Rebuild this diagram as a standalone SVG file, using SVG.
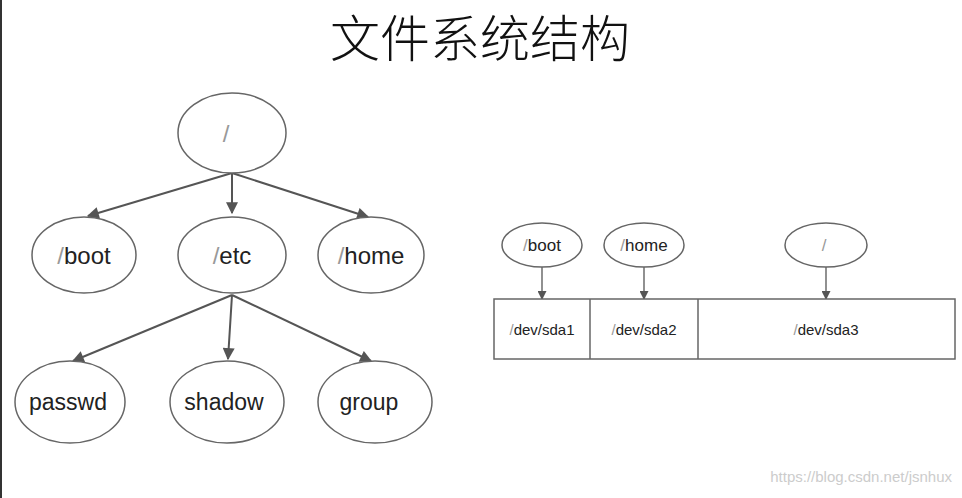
<svg xmlns="http://www.w3.org/2000/svg" width="962" height="498" viewBox="0 0 962 498">
<style>
.n{fill:#fff;stroke:#666;stroke-width:1.5}
.t{font-family:"Liberation Sans",Arial,sans-serif;fill:#222;text-anchor:middle}
.s{fill:#999}
.c{stroke:#555;stroke-width:2;fill:none;marker-end:url(#a)}
.c2{stroke:#555;stroke-width:1.3;fill:none;marker-end:url(#b)}
</style>
<defs>
<marker id="a" viewBox="0 0 10 10" refX="9" refY="5" markerWidth="13" markerHeight="12" markerUnits="userSpaceOnUse" orient="auto"><path d="M0,0L10,5L0,10z" fill="#555"/></marker>
<marker id="b" viewBox="0 0 10 10" refX="9" refY="5" markerWidth="10" markerHeight="9" markerUnits="userSpaceOnUse" orient="auto"><path d="M0,0L10,5L0,10z" fill="#555"/></marker>
</defs>
<rect width="962" height="498" fill="#fff"/>
<rect x="0" y="0" width="2" height="498" fill="#333"/>
<text x="480" y="57" font-family="'Noto Sans CJK SC',sans-serif" font-weight="300" font-size="50" text-anchor="middle" fill="#111">文件系统结构</text>
<g id="connectors">
<path class="c" d="M232,173L88,216"/>
<path class="c" d="M232,173L232,213"/>
<path class="c" d="M232,173L368,217"/>
<path class="c" d="M232,295L73,361"/>
<path class="c" d="M232,295L228,359"/>
<path class="c" d="M232,295L371,361"/>
<path class="c2" d="M542,267L542,299"/>
<path class="c2" d="M644,267L644,299"/>
<path class="c2" d="M826,267L826,299"/>
</g>
<g id="root"><ellipse class="n" cx="232" cy="133" rx="54" ry="40"/><text class="t s" x="226" y="142" font-size="24">/</text></g>
<g id="boot"><ellipse class="n" cx="84" cy="255" rx="52" ry="38"/><text class="t" x="84" y="264" font-size="24"><tspan class="s">/</tspan>boot</text></g>
<g id="etc"><ellipse class="n" cx="232" cy="255" rx="54" ry="38"/><text class="t" x="232" y="264" font-size="24"><tspan class="s">/</tspan>etc</text></g>
<g id="home"><ellipse class="n" cx="371" cy="255" rx="53" ry="38"/><text class="t" x="371" y="264" font-size="24"><tspan class="s">/</tspan>home</text></g>
<g id="passwd"><ellipse class="n" cx="70" cy="402" rx="55" ry="41"/><text class="t" x="68" y="410" font-size="23">passwd</text></g>
<g id="shadow"><ellipse class="n" cx="227" cy="402" rx="57" ry="41"/><text class="t" x="224" y="410" font-size="23">shadow</text></g>
<g id="group"><ellipse class="n" cx="375" cy="402" rx="57" ry="41"/><text class="t" x="369" y="410" font-size="23">group</text></g>
<g id="boot2"><ellipse class="n" cx="542" cy="245" rx="40" ry="22"/><text class="t" x="542" y="251" font-size="17"><tspan class="s">/</tspan>boot</text></g>
<g id="home2"><ellipse class="n" cx="644" cy="245" rx="40" ry="22"/><text class="t" x="644" y="251" font-size="17"><tspan class="s">/</tspan>home</text></g>
<g id="root2"><ellipse class="n" cx="826" cy="245" rx="41" ry="22"/><text class="t s" x="824" y="251" font-size="17">/</text></g>
<g id="disk">
<rect class="n" x="494" y="299" width="461" height="60"/>
<line x1="590" y1="299" x2="590" y2="359" stroke="#666" stroke-width="1.5"/>
<line x1="698" y1="299" x2="698" y2="359" stroke="#666" stroke-width="1.5"/>
<text class="t" x="542" y="335" font-size="15"><tspan class="s">/</tspan>dev/sda1</text>
<text class="t" x="644" y="335" font-size="15"><tspan class="s">/</tspan>dev/sda2</text>
<text class="t" x="826" y="335" font-size="15"><tspan class="s">/</tspan>dev/sda3</text>
</g>
<text x="952" y="482" font-family="'Liberation Sans',Arial,sans-serif" font-size="15" fill="#ccc" text-anchor="end">https://blog.csdn.net/jsnhux</text>
</svg>
